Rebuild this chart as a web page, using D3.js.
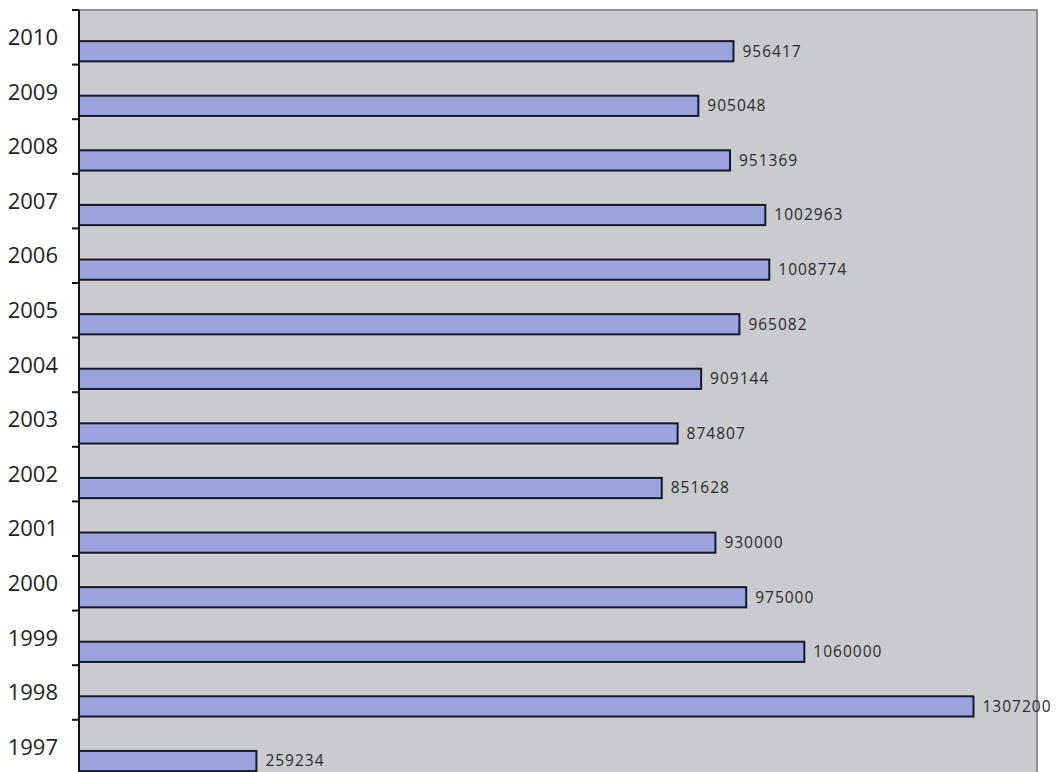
<!DOCTYPE html>
<meta charset="utf-8">
<head>
  <meta charset="utf-8">
  <title>Values by year</title>
</head>
<style>
body { margin: 0; background: #fff; }
.year { font-family: 'Open Sans', sans-serif; font-size: 22px; fill: #222; }
.val { font-family: 'Open Sans', sans-serif; font-size: 15.5px; fill: #2a2a2a; letter-spacing: 1px; }
.bar { fill: #9ba3dd; stroke: #15172a; stroke-width: 2; }
</style>
<body>
<div class='chart'></div>

<script src="https://d3js.org/d3.v7.min.js"></script>
<script>

// data, top row first
var years = ['2010', '2009', '2008', '2007', '2006', '2005', '2004', '2003', '2002', '2001', '2000', '1999', '1998', '1997']
var values = [956417, 905048, 951369, 1002963, 1008774, 965082, 909144, 874807, 851628, 930000, 975000, 1060000, 1307200, 259234]
var xMax = 1400000

var width = 1062
var height = 772
var left = 79
var right = 1037
var plotTop = 10
var step = 54.6

var svg = d3.select('.chart')
    .append('svg')
    .attr('width', width)
    .attr('height', height)
    .style('display', 'block')

var x = d3.scaleLinear()
    .domain([0, xMax])
    .range([left, right])

var y = d3.scaleBand()
    .domain(years)
    .range([plotTop, plotTop + step * years.length])
    .padding(0)

var data = years.map(function (d, i) { return {year: d, value: values[i]} })

// plot background + grey frame on top and right
svg.append('rect')
    .attr('x', left)
    .attr('y', plotTop)
    .attr('width', right - left)
    .attr('height', height)
    .attr('fill', '#c9cbce')

svg.append('path')
    .attr('d', 'M' + left + ',' + plotTop + 'H' + right + 'V' + height)
    .attr('fill', 'none')
    .attr('stroke', '#8c8e91')
    .attr('stroke-width', 2)

// bars
svg.selectAll('.bar')
    .data(data)
    .enter().append('rect')
    .attr('class', 'bar')
    .attr('x', x(0))
    .attr('y', function (d) { return y(d.year) + y.bandwidth() * 0.57 })
    .attr('width', function (d) { return x(d.value) - x(0) })
    .attr('height', y.bandwidth() * 0.37)

// value labels
svg.selectAll('.val')
    .data(data)
    .enter().append('text')
    .attr('class', 'val')
    .attr('x', function (d) { return x(d.value) + 9 })
    .attr('y', function (d) { return y(d.year) + y.bandwidth() * 0.755 })
    .attr('dy', '0.35em')
    .text(function (d) { return d.value })

// left axis line and ticks at band edges
svg.append('line')
    .attr('x1', left).attr('x2', left)
    .attr('y1', plotTop).attr('y2', height)
    .attr('stroke', '#111')
    .attr('stroke-width', 2)

var edges = years.concat(['end'])
svg.selectAll('.tick')
    .data(edges)
    .enter().append('line')
    .attr('class', 'tick')
    .attr('x1', left - 7).attr('x2', left)
    .attr('y1', function (d, i) { return plotTop + i * y.step() })
    .attr('y2', function (d, i) { return plotTop + i * y.step() })
    .attr('stroke', '#111')
    .attr('stroke-width', 2)

// year labels
svg.selectAll('.year')
    .data(years)
    .enter().append('text')
    .attr('class', 'year')
    .attr('x', 58)
    .attr('y', function (d) { return y(d) + 35 })
    .attr('text-anchor', 'end')
    .text(function (d) { return d })

</script>
</body>
